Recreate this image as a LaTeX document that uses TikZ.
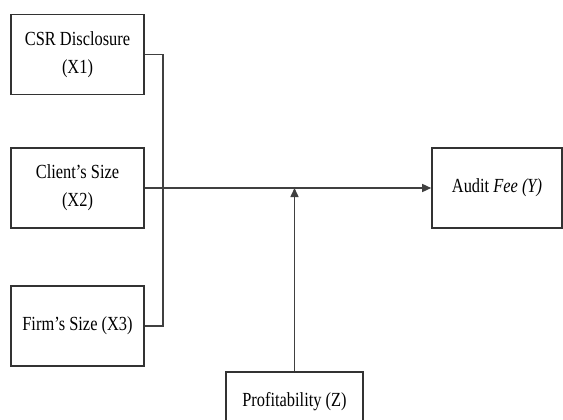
\documentclass[tikz,border=0pt]{standalone}
\usepackage{fontspec}
\setmainfont{Liberation Serif}
\usetikzlibrary{arrows.meta, positioning}

\newcommand{\sq}[1]{\scalebox{0.82}[1]{#1}}

\tikzset{
  varbox/.style={draw=black!80, line width=1.6pt, fill=white, align=center,
    minimum width=133pt, minimum height=80pt, inner sep=2pt,
    font=\fontsize{20}{28}\selectfont},
  link/.style={draw=black!75, line width=1.5pt},
  tip/.style={-{Triangle[length=9pt,width=8pt]}}
}

\begin{document}
\begin{tikzpicture}[x=1pt, y=-1pt]
      \useasboundingbox (0,0) rectangle (563,420);

      % Nodes
      \node[varbox] (x1) at (77.5, 54.5) {\sq{CSR Disclosure}\\\sq{(X1)}};
      \node[varbox] (x2) at (77.5, 188) {\sq{Client's Size}\\\sq{(X2)}};
      \node[varbox] (x3) at (77.5, 326) {\sq{Firm's Size (X3)}};
      \node[varbox, minimum width=130pt] (y) at (497, 188) {\sq{Audit \textit{Fee (Y)}}};
      \node[varbox, minimum width=137pt, minimum height=60pt] (z) at (294.5, 402) {\sq{Profitability (Z)}};
      \coordinate (j) at (163, 188);

      % Edges
      \draw[link] (x1.east) -| (j);
      \draw[link] (x3.east) -| (j);
      \draw[link, tip] (x2.east) -- (y.west);
      \draw[link, tip] (z.north) -- (z.north |- x2.east);

    \end{tikzpicture}
\end{document}
